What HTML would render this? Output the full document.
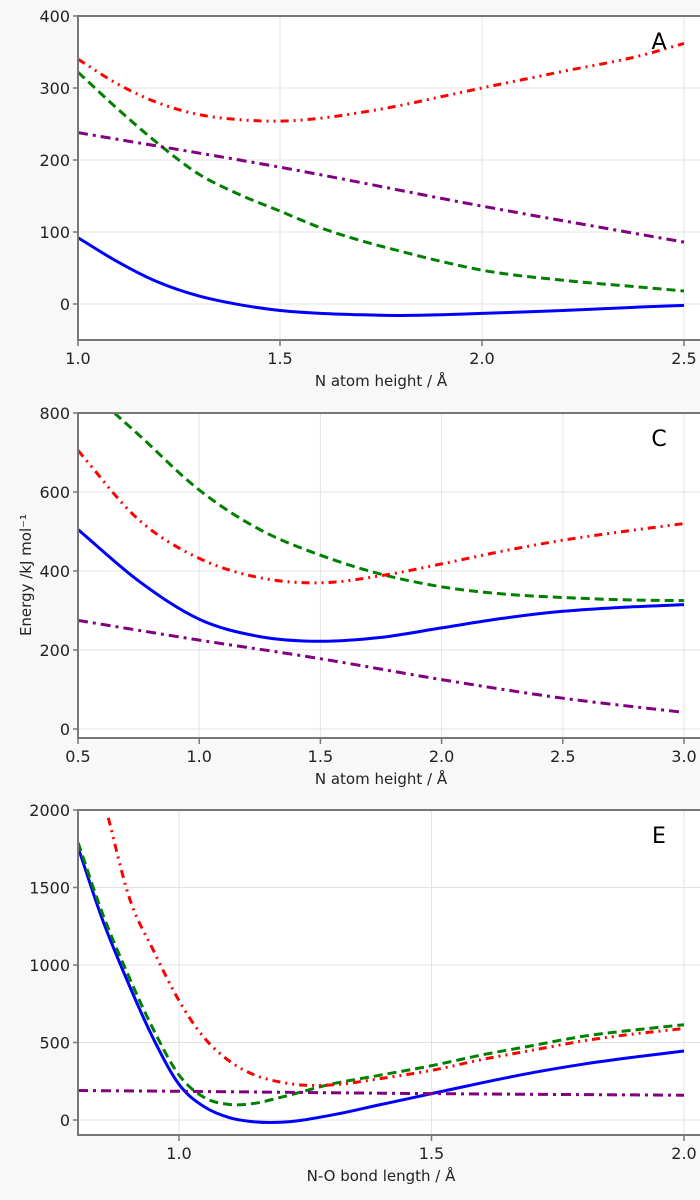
<!DOCTYPE html>
<html><head><meta charset="utf-8">
<style>
html,body{margin:0;padding:0;background:#f8f8f8;}
svg{display:block;font-family:"DejaVu Sans","Liberation Sans",sans-serif;}
</style></head>
<body>
<svg id="fig" width="700" height="1200" viewBox="0 0 700 1200"></svg>
<script>
// Panel A data
const aXTicks=[1.0,1.5,2.0,2.5];
const aYTicks=[0,100,200,300,400];
const aBlueX=[1.0,1.1,1.2,1.3,1.4,1.5,1.6,1.7,1.8,1.9,2.0,2.2,2.4,2.5];
const aBlueY=[92,58,30,11,-1,-9,-13,-15,-16,-15,-13,-9,-4,-2];
const aGreenX=[1.0,1.1,1.2,1.3,1.4,1.5,1.6,1.7,1.8,1.9,2.0,2.2,2.4,2.5];
const aGreenY=[322,270,222,180,152,129,106,88,73,59,47,33,23,18];
const aRedX=[1.0,1.1,1.2,1.3,1.4,1.5,1.6,1.7,1.8,1.9,2.0,2.2,2.4,2.5];
const aRedY=[340,305,279,263,256,254,258,266,276,288,300,323,346,362];
const aPurpleX=[1.0,1.5,2.0,2.5];
const aPurpleY=[238,190,136,86];
// Panel C data
const cXTicks=[0.5,1.0,1.5,2.0,2.5,3.0];
const cYTicks=[0,200,400,600,800];
const cBlueX=[0.5,0.75,1.0,1.25,1.5,1.75,2.0,2.25,2.5,2.75,3.0];
const cBlueY=[505,375,278,234,222,232,256,280,298,308,315];
const cGreenX=[0.65,0.75,1.0,1.25,1.5,1.75,2.0,2.25,2.5,2.75,3.0];
const cGreenY=[800,745,605,505,440,392,360,342,333,327,325];
const cRedX=[0.5,0.75,1.0,1.25,1.5,1.75,2.0,2.25,2.5,2.75,3.0];
const cRedY=[705,530,432,383,370,388,418,450,478,500,520];
const cPurpleX=[0.5,1.0,1.5,2.0,2.5,3.0];
const cPurpleY=[275,225,178,125,78,42];
// Panel E data
const eXTicks=[1.0,1.5,2.0];
const eYTicks=[0,500,1000,1500,2000];
const eBlueX=[0.8,0.85,0.9,0.95,1.0,1.05,1.1,1.15,1.2,1.3,1.4,1.5,1.6,1.7,1.8,1.9,2.0];
const eBlueY=[1760,1280,880,520,230,85,15,-12,-15,30,100,170,240,305,360,405,445];
const eGreenX=[0.8,0.85,0.9,0.95,1.0,1.05,1.1,1.15,1.2,1.3,1.4,1.5,1.6,1.7,1.8,1.9,2.0];
const eGreenY=[1790,1320,930,580,290,145,100,108,145,230,290,350,420,480,540,580,615];
const eRedX=[0.86,0.9,0.95,1.0,1.05,1.1,1.15,1.2,1.25,1.3,1.4,1.5,1.6,1.7,1.8,1.9,2.0];
const eRedY=[1950,1450,1090,770,530,380,290,245,224,226,268,320,390,450,510,555,590];
const ePurpleX=[0.8,1.0,1.5,2.0];
const ePurpleY=[190,185,170,160];

const NS="http://www.w3.org/2000/svg";
const svg=document.getElementById('fig');
function mk(tag,attrs,parent){const e=document.createElementNS(NS,tag);for(const k in attrs)e.setAttribute(k,attrs[k]);(parent||svg).appendChild(e);return e;}
function pathD(xs,ys,sx,sy){
  const n=xs.length;
  const m=xs.map((x,i)=>{
    if(i===0) return (ys[1]-ys[0])/(xs[1]-xs[0]);
    if(i===n-1) return (ys[n-1]-ys[n-2])/(xs[n-1]-xs[n-2]);
    const d0=(ys[i]-ys[i-1])/(xs[i]-xs[i-1]), d1=(ys[i+1]-ys[i])/(xs[i+1]-xs[i]);
    const h0=xs[i]-xs[i-1], h1=xs[i+1]-xs[i];
    return (d0*h1+d1*h0)/(h0+h1);
  });
  let d="M"+sx(xs[0]).toFixed(1)+","+sy(ys[0]).toFixed(1);
  for(let i=0;i<n-1;i++){
    const h=xs[i+1]-xs[i];
    const c1x=xs[i]+h/3, c1y=ys[i]+m[i]*h/3;
    const c2x=xs[i+1]-h/3, c2y=ys[i+1]-m[i+1]*h/3;
    d+=" C"+sx(c1x).toFixed(1)+","+sy(c1y).toFixed(1)+" "+sx(c2x).toFixed(1)+","+sy(c2y).toFixed(1)+" "+sx(xs[i+1]).toFixed(1)+","+sy(ys[i+1]).toFixed(1);
  }
  return d;
}
const styles={
  blue:{stroke:"#0000ff",dash:""},
  green:{stroke:"#008000",dash:"9,5"},
  red:{stroke:"#ff0000",dash:"8,5,2,5,2,5"},
  purple:{stroke:"#800080",dash:"10,5,3,5"}
};
function panel(id,top,bottom,xmin,xmax,ymin,ymax,xt,yt,xfmt,label,letter,series){
  const L=78,R=684;
  const sx=x=>L+(x-xmin)/(xmax-xmin)*(R-L);
  const sy=y=>bottom-(y-ymin)/(ymax-ymin)*(bottom-top);
  const g=mk('g',{});
  
  
  const bg=mk('rect',{x:L,y:top,width:R-L+16,height:bottom-top,fill:'#fff'},g);
  
  
  const clipId='clip'+id;
  const cp=mk('clipPath',{id:clipId},g);mk('rect',{x:L,y:top,width:R-L+16,height:bottom-top},cp);
  xt.forEach(v=>{const l=mk('line',{x1:sx(v),x2:sx(v),y1:top,y2:bottom,stroke:'#e3e3e3','stroke-width':1},g);
    });
  yt.forEach(v=>{const l=mk('line',{x1:L,x2:700,y1:sy(v),y2:sy(v),stroke:'#e3e3e3','stroke-width':1},g);
    });
  const sg=mk('g',{'clip-path':'url(#'+clipId+')'},g);
  series.forEach(s=>{
    const st=styles[s.c];
    const p=mk('path',{d:pathD(s.x,s.y,sx,sy),fill:'none',stroke:st.stroke,'stroke-width':3,'stroke-dasharray':st.dash},sg);
    
    
  });
  mk('line',{x1:L,x2:700,y1:top,y2:top,stroke:'#777','stroke-width':2},g);
  mk('line',{x1:L,x2:L,y1:top-1,y2:bottom+1,stroke:'#777','stroke-width':2},g);
  mk('line',{x1:L,x2:700,y1:bottom,y2:bottom,stroke:'#777','stroke-width':2},g);
  xt.forEach(v=>{
    mk('line',{x1:sx(v),x2:sx(v),y1:bottom,y2:bottom+6,stroke:'#777','stroke-width':1.5},g);
    const t=mk('text',{x:sx(v),y:bottom+24,'text-anchor':'middle','font-size':16,fill:'#222'},g);t.textContent=xfmt(v);
    
  });
  yt.forEach(v=>{
    mk('line',{x1:L-5,x2:L,y1:sy(v),y2:sy(v),stroke:'#777','stroke-width':1.5},g);
    const t=mk('text',{x:L-8,y:sy(v)+6,'text-anchor':'end','font-size':16,fill:'#222'},g);t.textContent=v;
    
  });
  const xl=mk('text',{x:381,y:bottom+46,'text-anchor':'middle','font-size':15,fill:'#222'},g);xl.textContent=label;
  
  const pl=mk('text',{x:659,y:top+33,'text-anchor':'middle','font-size':22,fill:'#000'},g);pl.textContent=letter;
  
}
const f1=v=>v.toFixed(1);
panel('a',16,340,1.0,2.5,-50,400,aXTicks,aYTicks,f1,'N atom height / Å','A',[
 {c:'blue',x:aBlueX,y:aBlueY},{c:'green',x:aGreenX,y:aGreenY},{c:'red',x:aRedX,y:aRedY},{c:'purple',x:aPurpleX,y:aPurpleY}]);
panel('c',413,738,0.5,3.0,-22.8,800,cXTicks,cYTicks,f1,'N atom height / Å','C',[
 {c:'blue',x:cBlueX,y:cBlueY},{c:'green',x:cGreenX,y:cGreenY},{c:'red',x:cRedX,y:cRedY},{c:'purple',x:cPurpleX,y:cPurpleY}]);
panel('e',810,1135,0.8,2.0,-96.8,2000,eXTicks,eYTicks,f1,'N-O bond length / Å','E',[
 {c:'blue',x:eBlueX,y:eBlueY},{c:'green',x:eGreenX,y:eGreenY},{c:'red',x:eRedX,y:eRedY},{c:'purple',x:ePurpleX,y:ePurpleY}]);
const yl=mk('text',{x:0,y:0,transform:'translate(31,575) rotate(-90)','text-anchor':'middle','font-size':15,fill:'#222'});
yl.textContent='Energy /kJ mol⁻¹';


</script>
</body></html>
